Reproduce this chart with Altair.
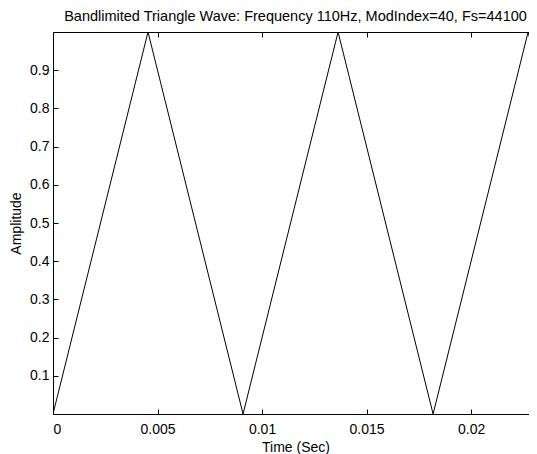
import altair as alt
import pandas as pd

# Values
time_s = [0.0, 0.004545, 0.009091, 0.013636, 0.018182, 0.022727, 0.0232]
amplitude = [0.0, 1.0, 0.0, 1.0, 0.0, 1.0, 0.896]
x_ticks = [0, 0.005, 0.01, 0.015, 0.02]
y_ticks = [0.1, 0.2, 0.3, 0.4, 0.5, 0.6, 0.7, 0.8, 0.9]
x_domain = [0, 0.0232]
y_domain = [0, 1]

df = pd.DataFrame({"t": time_s, "a": amplitude})

W, H = 485, 382
FONT = "Liberation Sans"
FS = 14

xscale = alt.Scale(domain=x_domain, nice=False, zero=False)
yscale = alt.Scale(domain=y_domain, nice=False, zero=False)

base = alt.Chart(df)

line = base.mark_line(color="black", strokeWidth=1, clip=True).encode(
    x=alt.X("t:Q", scale=xscale, title="Time (Sec)",
            axis=alt.Axis(orient="bottom", values=x_ticks, format="~g",
                          ticks=False, domain=False, grid=False,
                          labelPadding=8, titlePadding=4)),
    y=alt.Y("a:Q", scale=yscale, title="Amplitude",
            axis=alt.Axis(orient="left", values=y_ticks, format="~g",
                          ticks=False, domain=False, grid=False,
                          labelPadding=4, titlePadding=6)),
)

# inward ticks along bottom edge (x) and left edge (y)
ticks_a = base.mark_point(opacity=0).encode(
    x=alt.X("t:Q", scale=xscale, title=None,
            axis=alt.Axis(orient="top", offset=-H, values=x_ticks,
                          labels=False, domain=False, grid=False,
                          ticks=True, tickSize=5, tickColor="black")),
    y=alt.Y("a:Q", scale=yscale, title=None,
            axis=alt.Axis(orient="right", offset=-W, values=y_ticks,
                          labels=False, domain=False, grid=False,
                          ticks=True, tickSize=5, tickColor="black")),
)

# inward ticks along top edge (x)
ticks_b = base.mark_point(opacity=0).encode(
    x=alt.X("t:Q", scale=xscale, title=None,
            axis=alt.Axis(orient="bottom", offset=-H, values=x_ticks,
                          labels=False, domain=False, grid=False,
                          ticks=True, tickSize=5, tickColor="black")),
    y=alt.Y("a:Q", scale=yscale, axis=None),
)

chart = alt.layer(line, ticks_a, ticks_b).resolve_axis(
    x="independent", y="independent"
).properties(
    width=W,
    height=H,
    padding={"left": 45, "top": 24, "right": -9, "bottom": 40},
    autosize=alt.AutoSizeParams(type="none"),
    title=alt.TitleParams(
        text="Bandlimited Triangle Wave: Frequency 110Hz, ModIndex=40, Fs=44100",
        font=FONT, fontSize=14.5, fontWeight="normal", color="black",
        anchor="middle", frame="group", offset=5),
).configure(
    background="white",
).configure_view(
    stroke="black", strokeWidth=1,
).configure_axis(
    labelFont=FONT, titleFont=FONT, labelFontSize=FS, titleFontSize=FS,
    labelColor="black", titleColor="black", titleFontWeight="normal",
)

chart.save("out.html", embed_options={"renderer": "svg", "actions": False})
